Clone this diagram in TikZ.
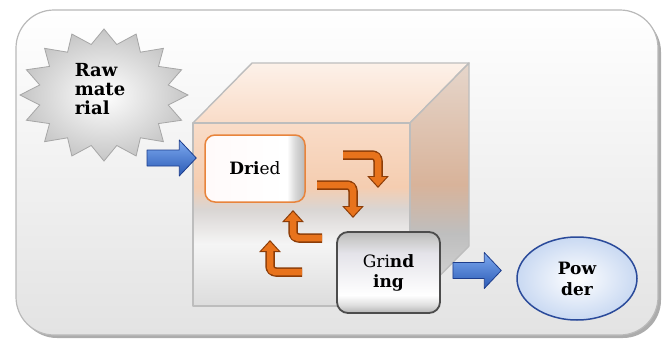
\documentclass[tikz,border=0pt]{standalone}
\usepackage{fontspec}
\setmainfont{DejaVu Serif}
\usetikzlibrary{arrows.meta,shapes.geometric}

\definecolor{peachtop}{HTML}{F9DCC8}
\definecolor{peachmid}{HTML}{F5CDB0}
\definecolor{cubeband}{HTML}{D9D5D3}
\definecolor{cubebottom}{HTML}{DCDCDC}
\definecolor{cubeedge}{HTML}{BDBDBD}
\definecolor{sidetop}{HTML}{E6D6CB}
\definecolor{sidemid}{HTML}{D8B39A}
\definecolor{sideband}{HTML}{BEBEBE}
\definecolor{bentmain}{HTML}{E8731C}
\definecolor{bentdark}{HTML}{8C3D08}
\definecolor{arrowlight}{HTML}{7EAAF0}
\definecolor{arrowdark}{HTML}{2A5AB5}
\definecolor{arrowedge}{HTML}{1D3D8C}
\definecolor{driededge}{HTML}{E8843C}
\definecolor{powderfill}{HTML}{C9D9F2}
\definecolor{powderedge}{HTML}{2A4A9A}
\definecolor{grindtop}{HTML}{E4E3E9}

\pgfdeclareverticalshading{cubefront}{100bp}{color(0bp)=(cubebottom); color(25bp)=(cubebottom); color(42bp)=(white!96!black); color(51.5bp)=(cubeband); color(57.5bp)=(peachmid); color(75bp)=(peachtop); color(100bp)=(peachtop)}
\pgfdeclareverticalshading{cuberight}{100bp}{color(0bp)=(cubebottom); color(25bp)=(cubebottom); color(40bp)=(sideband); color(50bp)=(sidemid); color(75bp)=(sidetop); color(100bp)=(sidetop)}
\pgfdeclarehorizontalshading{driedbevel}{100bp}{color(0bp)=(white!92!pink); color(25bp)=(white!92!pink); color(66bp)=(white); color(70bp)=(gray!30); color(75bp)=(gray!55); color(100bp)=(gray!55)}
\pgfdeclareverticalshading{grindbevel}{100bp}{color(0bp)=(gray!60); color(25bp)=(gray!60); color(30bp)=(gray!25); color(36bp)=(white); color(62bp)=(grindtop); color(70bp)=(gray!40); color(75bp)=(gray!55); color(100bp)=(gray!55)}

\begin{document}
\begin{tikzpicture}[x=1pt, y=-1pt,
	font=\fontsize{17}{20}\selectfont,
	frame/.style={draw=gray!55, line width=1.2pt, rounded corners=38pt, top color=white, bottom color=gray!22},
	cubeline/.style={draw=cubeedge, line width=1.4pt, line join=round},
	rawstar/.style={draw=gray!70, line width=0.8pt, inner color=white, outer color=gray!45},
	driedbox/.style={draw=driededge, line width=1.5pt, rounded corners=10pt, shading=driedbevel, minimum width=100pt, minimum height=67pt, inner sep=0pt},
	grindbox/.style={draw=black!70, line width=1.8pt, rounded corners=11pt, shading=grindbevel, minimum width=103pt, minimum height=81pt, inner sep=0pt, align=center},
	powder/.style={ellipse, draw=powderedge, line width=1.5pt, inner color=white, outer color=powderfill, minimum width=120pt, minimum height=83pt, inner sep=0pt, align=center},
	blockarrow/.style={draw=arrowedge, line width=0.8pt, line join=round, top color=arrowlight, bottom color=arrowdark,
		to path={([yshift=8pt]\tikztostart) -- ([xshift=-17pt,yshift=8pt]\tikztotarget) -- ([xshift=-17pt,yshift=18pt]\tikztotarget) -- (\tikztotarget) -- ([xshift=-17pt,yshift=-18pt]\tikztotarget) -- ([xshift=-17pt,yshift=-8pt]\tikztotarget) -- ([yshift=-8pt]\tikztostart) -- cycle}},
	bentedge/.style={draw=bentdark, line width=9.5pt, rounded corners=6pt, -{Triangle[width=21pt,length=12pt]}},
	bentbody/.style={draw=bentmain, line width=6.5pt, rounded corners=5pt, shorten >=1.8pt, -{Triangle[width=16pt,length=9pt]}}]
		\useasboundingbox (0,0) rectangle (665,343);
		% 外枠
		\fill [gray!65, rounded corners=38pt] (19,14) rectangle (661,338);
		\path [frame] (16,10) rectangle (658,335);
		% 立方体
		\path [cubeline, top color=white!60!peachtop, bottom color=peachtop]
		(193,123) -- (252,63) -- (469,63) -- (410,123) -- cycle;
		\path [cubeline, shading=cuberight]
		(410,123) -- (469,63) -- (469,246) -- (410,306) -- cycle;
		\path [cubeline, shading=cubefront]
		(193,123) rectangle (410,306);
		% 原料
		\path [rawstar] plot [domain=0:360, samples=33, variable=\t]
		({104+84*(0.89+0.11*cos(16*\t))*cos(\t)}, {95+66*(0.89+0.11*cos(16*\t))*sin(\t)}) -- cycle;
		\node [align=left, font=\fontsize{18}{19}\selectfont\bfseries] (raw) at (100,89) {Raw\\mate\\rial};
		% 工程
		\node [driedbox] (dried) at (255,168.5) {\textbf{Dri}ed};
		\node [grindbox] (grind) at (388.5,272.5) {Gri\textbf{nd}\\\textbf{ing}};
		\node [powder, font=\fontsize{17}{21}\selectfont\bfseries] (powder) at (577,278.5) {Pow\\der};
		% 青矢印
		\coordinate (in) at (147,158);
		\path (in -| dried.west) ++(-8,0) coordinate (in end);
		\draw [blockarrow] (in) to (in end);
		\path (grind.east) ++(12,-2) coordinate (out);
		\path (out -| powder.west) ++(-15,0) coordinate (out end);
		\draw [blockarrow] (out) to (out end);
		% 循環矢印
		\foreach \xa/\ya/\xb/\yb in {343/155/378/188, 317/185/353/218, 322/238/293/210, 302/272/270/240}{
			\draw [bentedge] (\xa,\ya) -| (\xb,\yb);
			\draw [bentbody] (\xa,\ya) -| (\xb,\yb);
		}
	\end{tikzpicture}
\end{document}
